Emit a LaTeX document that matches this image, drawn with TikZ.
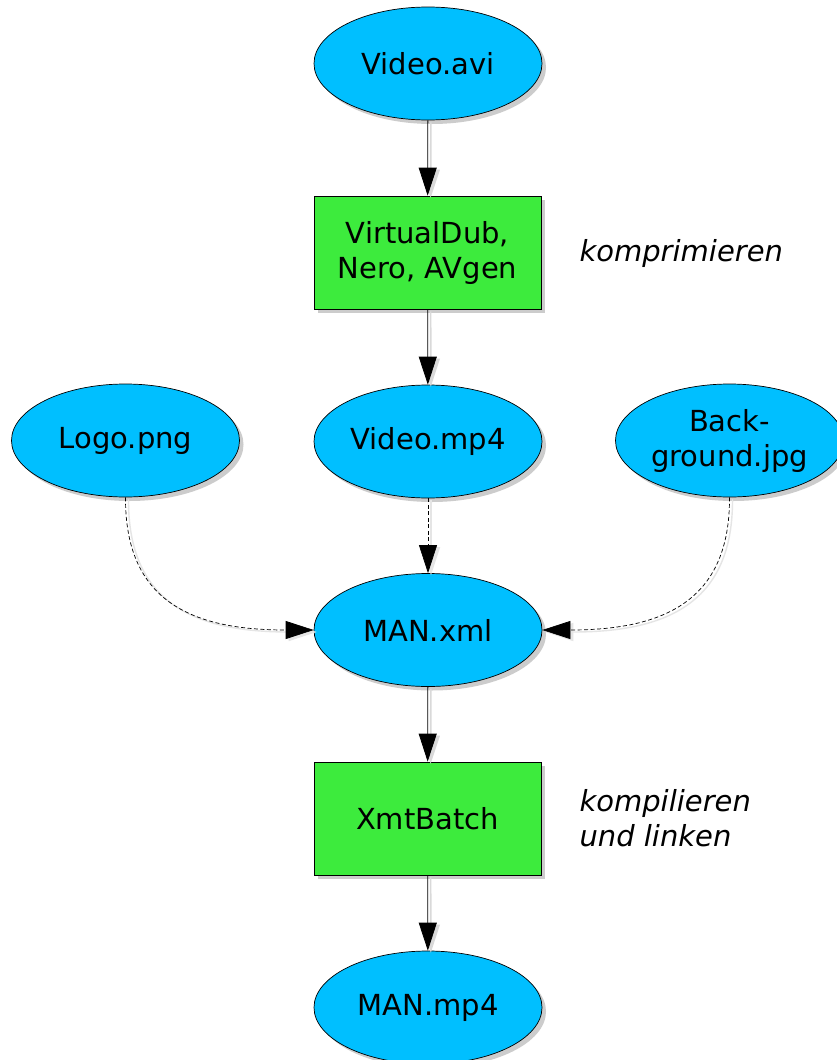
\documentclass[tikz,border=0pt]{standalone}
\usepackage{fontspec}
\setmainfont{DejaVu Sans}
\usetikzlibrary{shapes.geometric,arrows.meta,shadows}
\definecolor{filefill}{HTML}{00BFFF}
\definecolor{toolfill}{HTML}{3DEB3D}
\tikzset{
  sh/.style={drop shadow={shadow xshift=4pt,shadow yshift=-4pt,fill=black!20,opacity=1}},
  filenode/.style={ellipse,draw=black,line width=0.7pt,fill=filefill,sh,
    minimum width=228pt,minimum height=113pt,inner sep=0pt,align=center,
    font=\fontsize{29}{35}\selectfont},
  toolnode/.style={rectangle,draw=black,line width=0.7pt,fill=toolfill,sh,
    minimum width=227pt,minimum height=113pt,inner sep=0pt,align=center,
    font=\fontsize{29}{35}\selectfont},
  note/.style={align=left,anchor=west,font=\itshape\fontsize{29}{35}\selectfont},
  tip/.style={-{Triangle[length=28pt,width=18pt]}},
  flow/.style={tip,line width=0.8pt,
    preaction={draw=black!15,line width=1.6pt,transform canvas={shift={(3pt,-2pt)}}}},
  dflow/.style={tip,line width=0.7pt,dash pattern=on 4pt off 2.5pt,
    preaction={draw=black!10,solid,line width=1.4pt,transform canvas={shift={(3pt,-2pt)}}}},
}
\begin{document}
\begin{tikzpicture}[x=1pt,y=-1pt]
  \fill[white] (0,0) rectangle (836,1060);
  \useasboundingbox (0,0) rectangle (836,1060);

  \node[filenode] (avi) at (428,63.5) {Video.avi};
  \node[toolnode] (comp) at (427.5,252.5) {VirtualDub,\\Nero, AVgen};
  \node[filenode] (mp4) at (428,441.5) {Video.mp4};
  \node[filenode] (logo) at (125.5,440.5) {Logo.png};
  \node[filenode] (bg) at (729.5,440.5) {Back-\\ground.jpg};
  \node[filenode] (xml) at (428,630) {MAN.xml};
  \node[toolnode] (batch) at (427.5,818.5) {XmtBatch};
  \node[filenode] (out) at (428,1007.5) {MAN.mp4};

  \node[note] (l1) at (576,253) {komprimieren};
  \node[note] (l2) at (576,818) {kompilieren\\und linken};

  \draw[flow] (avi) -- (comp);
  \draw[flow] (comp) -- (mp4);
  \draw[flow] (xml) -- (batch);
  \draw[flow] (batch) -- (out);

  \draw[dflow] (mp4) -- (xml);
  \draw[dflow] (logo.south) .. controls (125,600) and (190,630) .. (xml.west);
  \draw[dflow] (bg.south) .. controls (730,600) and (665,630) .. (xml.east);
\end{tikzpicture}
\end{document}
